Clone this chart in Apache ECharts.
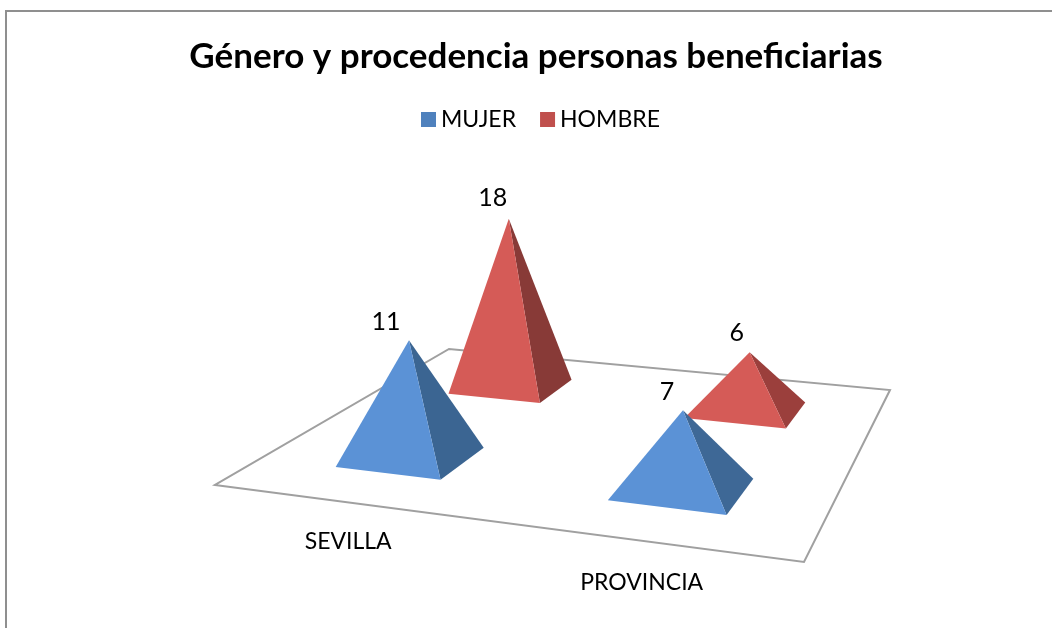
<!DOCTYPE html>
<html><head><meta charset="utf-8">
<style>html,body{margin:0;padding:0;background:#fff}#c{width:1052px;height:628px}</style>
<script src="https://cdn.jsdelivr.net/npm/echarts@6/dist/echarts.min.js"></script>
</head><body><div id="c"></div>
<script>
const chartTitle = 'Género y procedencia personas beneficiarias';
const categories = ['SEVILLA', 'PROVINCIA'];
const seriesNames = ['MUJER', 'HOMBRE'];
const mujer = [11, 7];
const hombre = [18, 6];

// layout of the 3D view
const FLOOR = [[215,485],[804,562],[890,390],[449,349]];
const CAT_U = [0.25, 0.75], ROW_V = [0.25, 0.75];
const HALF_U = 0.1, HALF_V = 0.095, HEIGHT_K = 11.55, FRONT_SKEW = 0.003;
const APEX_OFF = {MUJER: [[-3,3],[0,2]], HOMBRE: [[-3,0],[3,1]]};
const LABEL_OFF = {MUJER: [[-23,-18],[-16,-18]], HOMBRE: [[-16,-21],[-13,-19]]};
const CAT_LABEL_DY = [39, 42];

function makeProjection(c){
  const [p0,p1,p2,p3]=c;
  const dx1=p1[0]-p2[0],dx2=p3[0]-p2[0],sx=p0[0]-p1[0]+p2[0]-p3[0];
  const dy1=p1[1]-p2[1],dy2=p3[1]-p2[1],sy=p0[1]-p1[1]+p2[1]-p3[1];
  const den=dx1*dy2-dx2*dy1;
  const g=(sx*dy2-dx2*sy)/den,h=(dx1*sy-sx*dy1)/den;
  const a=p1[0]-p0[0]+g*p1[0],b=p3[0]-p0[0]+h*p3[0];
  const d=p1[1]-p0[1]+g*p1[1],e=p3[1]-p0[1]+h*p3[1];
  return (u,v,z)=>{
    const w=g*u+h*v+1;
    return [(a*u+b*v+p0[0])/w,(d*u+e*v+p0[1])/w-(z||0)*HEIGHT_K/w];
  };
}
const project=makeProjection(FLOOR);

function pyramidSeries(name,row,values,front,side,base){
  return {
    type:'custom',name,coordinateSystem:'cartesian2d',clip:false,
    itemStyle:{color:base},
    encode:{x:0,y:1},
    data:values.map((v,i)=>[i,v]),
    z:row===1?2:3,
    renderItem(params,api){
      const i=api.value(0),val=api.value(1);
      const u=CAT_U[i],v=ROW_V[row];
      const P=(uu,vv,z)=>api.coord(project(uu,vv,z));
      const fl=P(u-HALF_U-FRONT_SKEW,v-HALF_V),fr=P(u+HALF_U-FRONT_SKEW,v-HALF_V),br=P(u+HALF_U,v+HALF_V);
      const a=P(u,v,val),ao=APEX_OFF[name][i];
      const top=[a[0]+ao[0],a[1]+ao[1]];
      const off=LABEL_OFF[name][i];
      return {type:'group',children:[
        {type:'polygon',shape:{points:[fr,br,top]},style:{fill:side[i]}},
        {type:'polygon',shape:{points:[fl,fr,top]},style:{fill:front}},
        {type:'text',style:{text:String(val),x:top[0]+off[0],y:top[1]+off[1],align:'center',verticalAlign:'middle',
          fill:'#000',font:'25px Lato, sans-serif'}}
      ]};
    }
  };
}

const floorSeries={
  type:'custom',name:'floor',coordinateSystem:'cartesian2d',clip:false,silent:true,z:1,
  data:categories.map((c,i)=>[i,0]),
  encode:{x:0,y:1},
  renderItem(params,api){
    const i=api.value(0);
    const kids=[];
    if(i===0){
      kids.push({type:'polygon',shape:{points:[[0,0],[1,0],[1,1],[0,1]].map(q=>api.coord(project(q[0],q[1])))},
        style:{fill:'#fff',stroke:'#a0a0a0',lineWidth:2}});
    }
    const p=api.coord(project(CAT_U[i],0));
    kids.push({type:'text',style:{text:categories[i],x:p[0],y:p[1]+CAT_LABEL_DY[i],align:'center',verticalAlign:'middle',
      fill:'#000',font:'23px Lato, sans-serif'}});
    return {type:'group',children:kids};
  }
};

const chart=echarts.init(document.getElementById('c'),null,{renderer:'canvas'});
chart.setOption({
  animation:false,backgroundColor:'#fff',
  title:{text:chartTitle,left:531,top:52,textAlign:'center',textVerticalAlign:'middle',
    textStyle:{fontFamily:'Lato, sans-serif',fontWeight:'bold',fontSize:35,color:'#000'}},
  legend:{data:seriesNames,left:416,top:103,icon:'rect',itemWidth:15,itemHeight:15,itemGap:24,
    textStyle:{fontFamily:'Lato, sans-serif',fontSize:23,color:'#000',padding:[0,0,0,0]}},
  grid:{left:0,right:0,top:0,bottom:0},
  xAxis:{type:'value',min:0,max:1052,show:false},
  yAxis:{type:'value',min:0,max:628,inverse:true,show:false},
  graphic:[
    {type:'polyline',silent:true,z:0,shape:{points:[[6,628],[6,11],[1052,11]]},style:{fill:null,stroke:'#8f8f8f',lineWidth:2}}
  ],
  series:[
    floorSeries,
    pyramidSeries(seriesNames[1],1,hombre,'#d55b57',['#883a37','#9b3f3c'],'#c0504d'),
    pyramidSeries(seriesNames[0],0,mujer,'#5b92d6',['#3b6592','#3e6896'],'#4f81bd')
  ]
});
</script></body></html>
